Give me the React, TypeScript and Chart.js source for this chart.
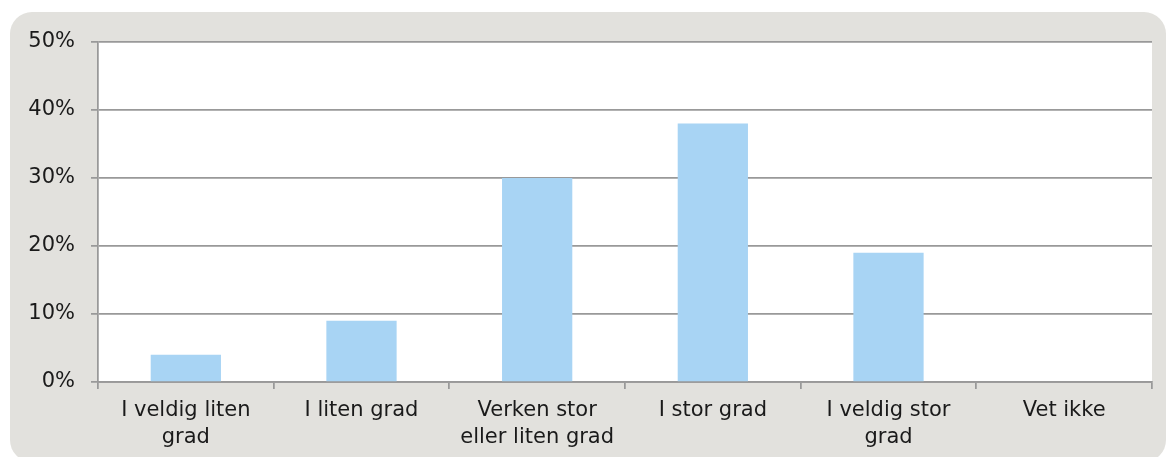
import React, { useEffect, useRef } from "react";
import { Chart, registerables } from "chart.js";

Chart.register(...registerables);

const categories: string[][] = [
  ["I veldig liten", "grad"],
  ["I liten grad"],
  ["Verken stor", "eller liten grad"],
  ["I stor grad"],
  ["I veldig stor", "grad"],
  ["Vet ikke"],
];
const values: number[] = [4, 9, 30, 38, 19, 0];
const yTicks: number[] = [0, 10, 20, 30, 40, 50];

const FONT = "'DejaVu Sans', Verdana, sans-serif";

export default function App() {
  const ref = useRef<HTMLCanvasElement>(null);
  useEffect(() => {
    if (!ref.current) return;
    const whiteBg = {
      id: "whiteBg",
      beforeDraw(chart: any) {
        const { ctx, chartArea } = chart;
        ctx.save();
        ctx.fillStyle = "#ffffff";
        ctx.fillRect(chartArea.left, chartArea.top, chartArea.right - chartArea.left, chartArea.bottom - chartArea.top);
        ctx.restore();
      },
    };
    const chart = new Chart(ref.current, {
      type: "bar",
      data: {
        labels: categories,
        datasets: [
          {
            data: values,
            backgroundColor: "#a8d4f4",
            borderWidth: 0,
            categoryPercentage: 1,
            barPercentage: 0.4,
          },
        ],
      },
      plugins: [whiteBg],
      options: {
        animation: false,
        responsive: false,
        maintainAspectRatio: false,
        layout: { padding: { top: 42, right: 16, left: 0, bottom: 0 } },
        plugins: { legend: { display: false }, tooltip: { enabled: false } },
        scales: {
          x: {
            grid: {
              offset: true,
              drawOnChartArea: false,
              drawTicks: true,
              tickLength: 7,
              color: "#999999",
              lineWidth: 1.75,
            },
            border: { display: true, color: "#999999", width: 1.75 },
            ticks: {
              color: "#1a1a1a",
              font: { family: FONT, size: 21, lineHeight: 1.29 },
              padding: 8,
              maxRotation: 0,
              autoSkip: false,
            },
            afterFit(scale: any) {
              scale.height = 75;
            },
          },
          y: {
            min: 0,
            max: 50,
            afterBuildTicks(scale: any) {
              scale.ticks = yTicks.map((v) => ({ value: v }));
            },
            grid: {
              color: "#999999",
              lineWidth: 1.75,
              tickLength: 7,
              drawTicks: true,
            },
            border: { display: true, color: "#999999", width: 1.75 },
            ticks: {
              color: "#1a1a1a",
              font: { family: FONT, size: 21 },
              padding: 16,
              callback: (v: any) => v + "%",
            },
            afterFit(scale: any) {
              scale.width = 98;
            },
          },
        },
      },
    });
    return () => chart.destroy();
  }, []);

  return (
    <div style={{ position: "fixed", left: 0, top: 0, width: 1168, height: 457, overflow: "hidden", background: "#ffffff" }}>
      <div
        style={{
          position: "absolute",
          left: 10,
          top: 12,
          width: 1156,
          height: 450,
          background: "#e2e1dd",
          borderRadius: 22,
        }}
      />
      <canvas ref={ref} width={1168} height={457} style={{ position: "absolute", left: 0, top: 0 }} />
    </div>
  );
}
